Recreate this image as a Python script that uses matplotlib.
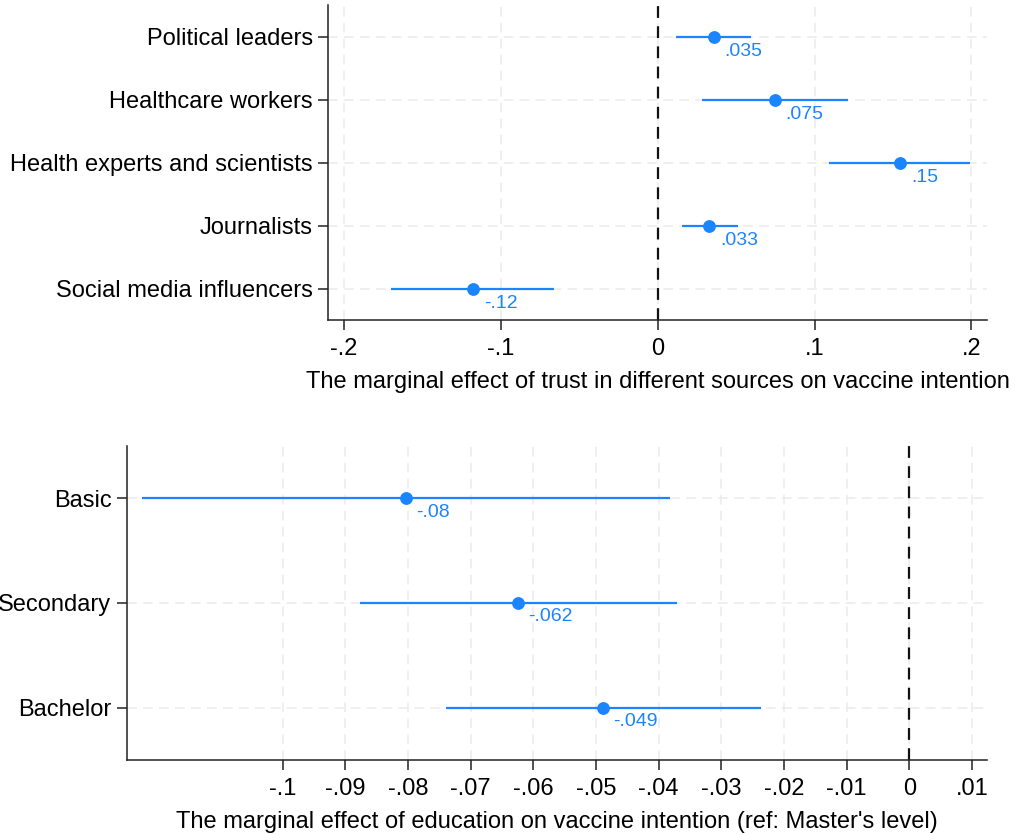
import matplotlib
matplotlib.use("Agg")
import matplotlib.pyplot as plt

plt.rcParams['font.family'] = ['Liberation Sans', 'DejaVu Sans']
plt.rcParams['lines.scale_dashes'] = False

BLUE = '#1a85ff'

# ---- data: top panel ----
sources = ["Political leaders", "Healthcare workers", "Health experts and scientists",
           "Journalists", "Social media influencers"]
src_est = [0.0356, 0.0746, 0.1545, 0.033, -0.118]
src_lo = [0.0116, 0.0284, 0.1095, 0.0153, -0.170]
src_hi = [0.0593, 0.1214, 0.1992, 0.0509, -0.066]
src_lbl = [".035", ".075", ".15", ".033", "-.12"]
src_ticks = [-0.2, -0.1, 0.0, 0.1, 0.2]
src_ticklabels = ["-.2", "-.1", "0", ".1", ".2"]

# ---- data: bottom panel ----
edu = ["Basic", "Secondary", "Bachelor"]
edu_est = [-0.0803, -0.0624, -0.0489]
edu_lo = [-0.1225, -0.0877, -0.0740]
edu_hi = [-0.0382, -0.0371, -0.0237]
edu_lbl = ["-.08", "-.062", "-.049"]
edu_ticks = [-0.1, -0.09, -0.08, -0.07, -0.06, -0.05, -0.04, -0.03, -0.02, -0.01, 0.0, 0.01]
edu_ticklabels = ["-.1", "-.09", "-.08", "-.07", "-.06", "-.05", "-.04", "-.03", "-.02", "-.01", "0", ".01"]

fig = plt.figure(figsize=(10.17, 8.34), dpi=100)
ax1 = fig.add_axes([328/1017, 1-320/834, (987-328)/1017, (320-5)/834])
ax2 = fig.add_axes([126.7/1017, 1-760/834, (987-126.7)/1017, (760-445.7)/834])


def style(ax, cats, ticks, ticklabels, xlim, xlabel):
    n = len(cats)
    ys = list(range(1, n + 1))
    ax.set_ylim(n + 0.5, 0.5)
    ax.set_xlim(*xlim)
    ax.set_yticks(ys)
    ax.set_yticklabels(cats, fontsize=17)
    ax.set_xticks(ticks)
    ax.set_xticklabels(ticklabels, fontsize=17)
    ax.set_xlabel(xlabel, fontsize=17, labelpad=8)
    for s in ['top', 'right']:
        ax.spines[s].set_visible(False)
    for s in ['left', 'bottom']:
        ax.spines[s].set_linewidth(1.1)
        ax.spines[s].set_color('#222222')
    ax.tick_params(axis='both', length=7, width=1.1, color='#222222', pad=4)
    ax.tick_params(axis='x', pad=6)
    ax.grid(True, color='#ebebeb', linewidth=1.1, linestyle=(0, (7, 4.5)))
    ax.set_axisbelow(True)
    ax.axvline(0, color='#111111', linewidth=1.6, linestyle=(0, (8.5, 6)), zorder=2)
    return ys


ys1 = style(ax1, sources, src_ticks, src_ticklabels, (-0.2103, 0.2100),
            "The marginal effect of trust in different sources on vaccine intention")
ax1.hlines(ys1, src_lo, src_hi, color=BLUE, linewidth=1.6, zorder=3)
ax1.plot(src_est, ys1, 'o', color=BLUE, markersize=8.2, zorder=4)
for x, y, t in zip(src_est, ys1, src_lbl):
    ax1.annotate(t, (x, y), xytext=(11, -15), textcoords='offset pixels',
                 ha='left', va='center', color=BLUE, fontsize=14)

ys2 = style(ax2, edu, edu_ticks, edu_ticklabels, (-0.1249, 0.0124),
            "The marginal effect of education on vaccine intention (ref: Master's level)")
ax2.hlines(ys2, edu_lo, edu_hi, color=BLUE, linewidth=1.6, zorder=3)
ax2.plot(edu_est, ys2, 'o', color=BLUE, markersize=8.2, zorder=4)
for x, y, t in zip(edu_est, ys2, edu_lbl):
    ax2.annotate(t, (x, y), xytext=(10, -14), textcoords='offset pixels',
                 ha='left', va='center', color=BLUE, fontsize=14)

fig.savefig("out.png", dpi=100)
